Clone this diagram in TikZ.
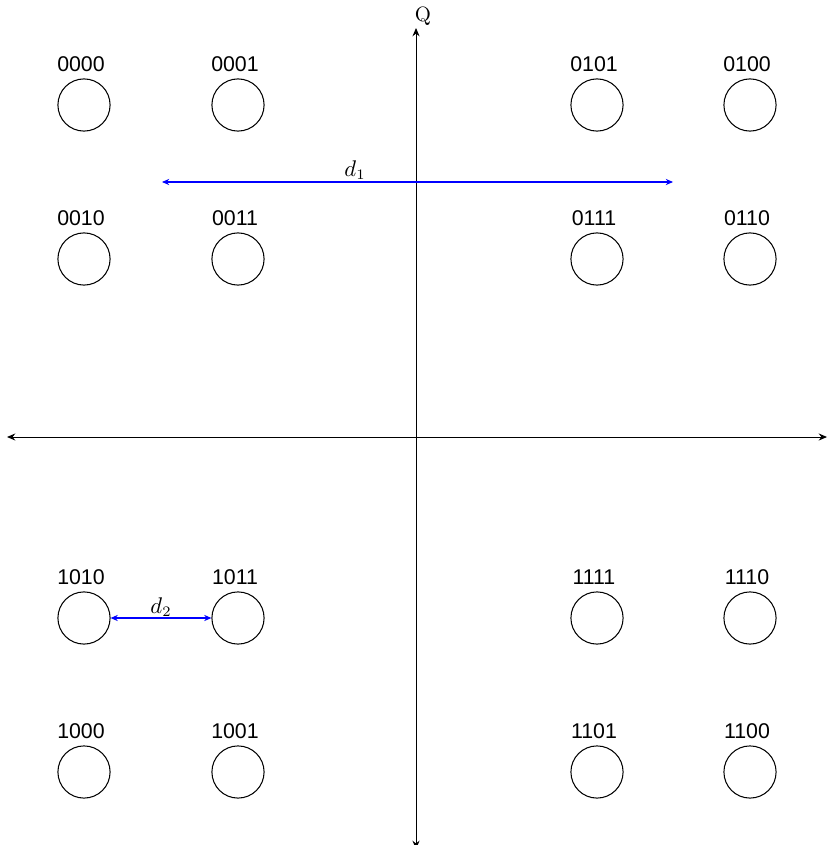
\documentclass[tikz,border=0pt]{standalone}
\usepackage{fontspec}
\newfontfamily\labelfont{Liberation Sans}
\usetikzlibrary{arrows.meta}
\begin{document}
\begin{tikzpicture}[x=0.483pt,y=-0.483pt,
  pt/.style={circle,draw,line width=0.5pt,minimum size=25.2pt,inner sep=0pt},
  lbl/.style={font=\labelfont\fontsize{10.3}{12}\selectfont,inner sep=0pt},
  axis/.style={line width=0.45pt,{Stealth[length=4pt,width=3.4pt]}-{Stealth[length=4pt,width=3.4pt]}},
  dist/.style={blue,line width=0.5pt,{Stealth[length=3.5pt,width=3pt]}-{Stealth[length=3.5pt,width=3pt]}}]
\useasboundingbox (0,0) rectangle (829,845);
% axes
\coordinate (xl) at (7,437);
\coordinate (xr) at (827,437);
\coordinate (yt) at (416,28);
\coordinate (yb) at (416,849);
\draw[axis] (xl) -- (xr);
\draw[axis] (yb) -- (yt);
\node[inner sep=0pt,font=\fontsize{10}{12}\selectfont] (q) at (423,16) {Q};
% constellation points
\foreach \nm/\cx/\cy in {0000/84/105,0001/238/105,0101/597/105,0100/750/105,
                         0010/84/259,0011/238/259,0111/597/259,0110/750/259,
                         1010/84/618,1011/238/618,1111/597/618,1110/750/618,
                         1000/84/772,1001/238/772,1101/597/772,1100/750/772}{
  \node[pt] (c\nm) at (\cx,\cy) {};
  \node[lbl] (l\nm) at (\cx-3,\cy-41) {\nm};
}
% distances
\coordinate (d1a) at (162,182);
\coordinate (d1b) at (673,182);
\draw[dist] (d1a) -- (d1b);
\node[inner sep=0pt,font=\fontsize{10.5}{12}\selectfont] (d1) at (355,170) {$d_1$};
\draw[dist] (c1010.east) -- (c1011.west);
\node[inner sep=0pt,font=\fontsize{10.5}{12}\selectfont] (d2) at (161,607) {$d_2$};
\end{tikzpicture}
\end{document}
